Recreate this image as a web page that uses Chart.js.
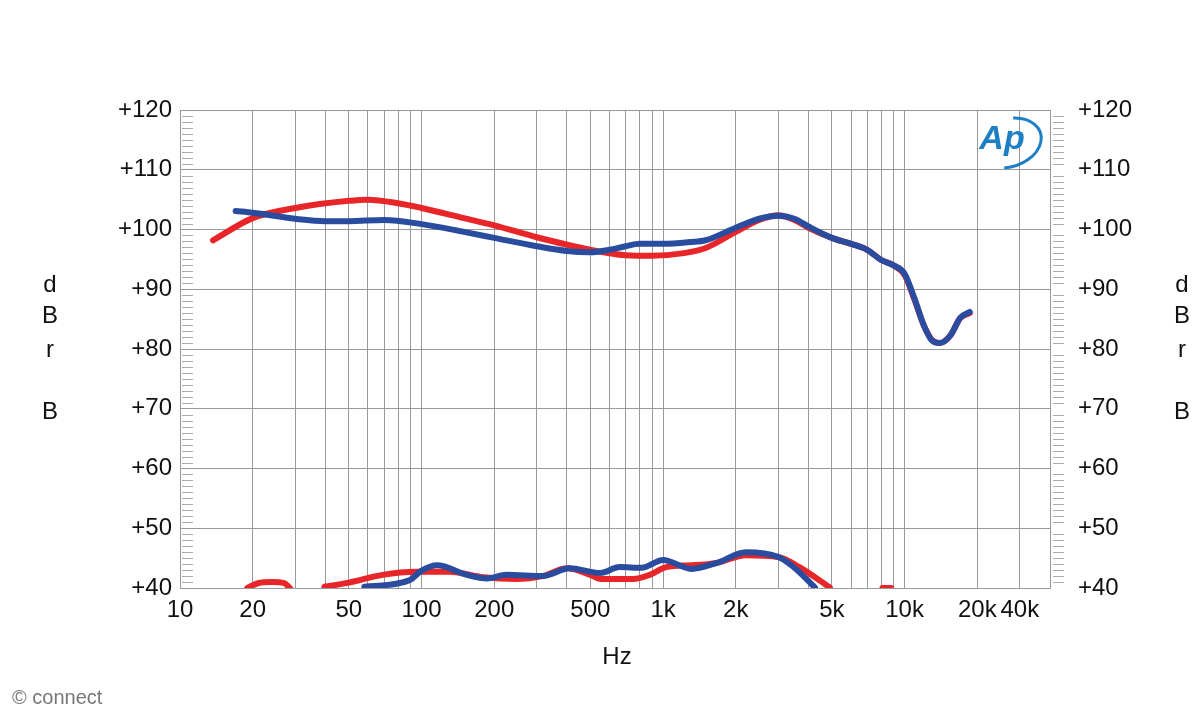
<!DOCTYPE html>
<html>
<head>
<meta charset="utf-8">
<script src="https://cdn.jsdelivr.net/npm/chart.js@4"></script>
<style>
  html, body { margin: 0; padding: 0; background: #fff; }
  #wrap { width: 1200px; height: 720px; position: relative; }
</style>
</head>
<body>
<div id="wrap"><canvas id="fr"></canvas></div>
<script>
"use strict";

// frequency response, main curves (Hz, dB)
const redMainHz = [13.7, 20, 30, 50, 60, 80, 100, 150, 200, 300, 500, 700, 900, 1200, 1500, 2000, 2500, 3000, 3500, 4000, 5000, 6000, 7000, 8000, 9000, 10000, 11000, 12000, 13000, 14000, 15500, 17000, 18600];
const redMainDb = [98.2, 101.9, 103.6, 104.8, 105, 104.4, 103.6, 101.9, 100.7, 98.7, 96.6, 95.7, 95.6, 96, 96.9, 99.6, 101.6, 102.4, 101.6, 100.3, 98.6, 97.6, 96.6, 94.9, 94, 92.4, 88.2, 84, 81.5, 81, 82.3, 85.2, 86];
const blueMainHz = [17, 20, 30, 40, 50, 70, 100, 150, 200, 300, 400, 500, 600, 700, 800, 1000, 1300, 1500, 2000, 2500, 3000, 3500, 4000, 5000, 6000, 7000, 8000, 9000, 10000, 11000, 12000, 13000, 14000, 15500, 17000, 18600];
const blueMainDb = [103.1, 102.8, 101.8, 101.4, 101.4, 101.6, 100.9, 99.6, 98.6, 97.2, 96.4, 96.2, 96.6, 97.2, 97.6, 97.6, 97.9, 98.2, 100.3, 101.8, 102.3, 101.8, 100.5, 98.6, 97.6, 96.6, 94.9, 94, 92.6, 88.4, 84, 81.4, 81, 82.3, 85.2, 86.2];

// lower curves, null = gap
const redLowHz = [19, 21, 24, 27, 28.5, null, 39.6, 50, 69, 95, 131, 180, 248, 317, 400, 500, 550, 750, 880, 1030, 1310, 1670, 2200, 3000, 3670, 4900, null, 8100, 8800];
const redLowDb = [40, 40.8, 41, 40.8, 40, null, 40.2, 40.9, 42.2, 42.7, 42.7, 41.8, 41.5, 42, 43.3, 42.2, 41.5, 41.5, 42.2, 43.5, 43.8, 44.2, 45.5, 45.2, 43.5, 40.1, null, 40, 40];
const blueLowHz = [58, 89, 100, 116, 154, 187, 225, 317, 410, 550, 660, 815, 1000, 1310, 1670, 2200, 3000, 3450, 4250];
const blueLowDb = [40.2, 41.3, 42.9, 43.8, 42.2, 41.6, 42.2, 42, 43.3, 42.5, 43.5, 43.4, 44.7, 43.2, 44.2, 46, 45.2, 43.6, 40.1];

const xLabels = { 10: "10", 20: "20", 50: "50", 100: "100", 200: "200", 500: "500", 1000: "1k", 2000: "2k", 5000: "5k", 10000: "10k", 20000: "20k", 30000: "40k" };
const yTicks = [40, 50, 60, 70, 80, 90, 100, 110, 120];

const RED = "#e8262a";
const BLUE = "#2a4c9f";
const FONT = "'Liberation Sans', Arial, sans-serif";

function pts(hz, db) {
  return hz.map((f, i) => f === null ? { x: null, y: null } : { x: f, y: db[i] });
}

function lineSet(data, color, order) {
  return {
    data: data,
    borderColor: color,
    borderWidth: 6,
    pointRadius: 0,
    fill: false,
    spanGaps: false,
    cubicInterpolationMode: "monotone",
    borderCapStyle: "round",
    borderJoinStyle: "round",
    order: order
  };
}

const decor = {
  id: "decor",
  afterDraw(chart) {
    const ctx = chart.ctx;
    const a = chart.chartArea;
    const y = chart.scales.y;
    ctx.save();
    // minor dB ticks: inside on the left, outside on the right
    ctx.strokeStyle = "#aaa";
    ctx.lineWidth = 1;
    for (let v = 40; v <= 120; v++) {
      if (v % 10 === 0) continue;
      const py = Math.round(y.getPixelForValue(v)) + 0.5;
      ctx.beginPath();
      ctx.moveTo(a.left + 2, py); ctx.lineTo(a.left + 13, py);
      ctx.moveTo(a.right + 3, py); ctx.lineTo(a.right + 14, py);
      ctx.stroke();
    }
    ctx.fillStyle = "#111";
    ctx.font = "24px " + FONT;
    ctx.textBaseline = "middle";
    // right-hand dB labels, same scale as left
    ctx.textAlign = "left";
    yTicks.forEach(v => ctx.fillText("+" + v, a.right + 28, y.getPixelForValue(v)));
    // axis titles
    ctx.textAlign = "center";
    const letters = [["d", 285], ["B", 316], ["r", 350], ["B", 412]];
    letters.forEach(([t, ly]) => {
      ctx.fillText(t, 50, ly);
      ctx.fillText(t, 1182, ly);
    });
    ctx.fillText("Hz", 617, 657);
    // logo
    ctx.fillStyle = "#1f7fc4";
    ctx.font = "italic bold 34px " + FONT;
    ctx.fillText("Ap", 1002, 140);
    ctx.strokeStyle = "#1f7fc4";
    ctx.lineWidth = 3;
    ctx.beginPath();
    ctx.ellipse(1008, 143, 34, 24, -0.3, -1.2, 1.9);
    ctx.stroke();
    // copyright
    ctx.font = "20px " + FONT;
    ctx.textAlign = "left";
    ctx.lineWidth = 3;
    ctx.strokeStyle = "#fff";
    ctx.fillStyle = "#777";
    ctx.strokeText("\u00a9 connect", 12, 698);
    ctx.fillText("\u00a9 connect", 12, 698);
    ctx.restore();
  }
};

new Chart(document.getElementById("fr"), {
  type: "line",
  data: {
    datasets: [
      lineSet(pts(redMainHz, redMainDb), RED, 2),
      lineSet(pts(redLowHz, redLowDb), RED, 2),
      lineSet(pts(blueMainHz, blueMainDb), BLUE, 1),
      lineSet(pts(blueLowHz, blueLowDb), BLUE, 1)
    ]
  },
  options: {
    responsive: true,
    maintainAspectRatio: false,
    animation: false,
    layout: { padding: { top: 110, left: 0, right: 150, bottom: 0 } },
    plugins: { legend: { display: false }, tooltip: { enabled: false } },
    scales: {
      x: {
        type: "logarithmic",
        min: 10,
        max: 40000,
        afterBuildTicks(scale) {
          const t = [];
          for (let d = 10; d <= 10000; d *= 10) {
            for (let m = 1; m <= 9; m++) {
              if (d * m <= 40000) t.push({ value: d * m });
            }
          }
          scale.ticks = t;
        },
        afterFit(scale) { scale.height = 132; },
        ticks: {
          autoSkip: false,
          maxRotation: 0,
          padding: 8,
          color: "#111",
          font: { family: FONT, size: 24 },
          callback: (v) => xLabels[v] || ""
        },
        grid: { color: "#999", lineWidth: 1, drawTicks: false },
        border: { color: "#999" }
      },
      y: {
        min: 40,
        max: 120,
        afterBuildTicks(scale) { scale.ticks = yTicks.map(v => ({ value: v })); },
        afterFit(scale) { scale.width = 180; },
        ticks: {
          padding: 8,
          color: "#111",
          font: { family: FONT, size: 24 },
          callback: (v) => "+" + v
        },
        grid: { color: "#999", lineWidth: 1, drawTicks: false },
        border: { color: "#999" }
      }
    }
  },
  plugins: [decor]
});
</script>
</body>
</html>
